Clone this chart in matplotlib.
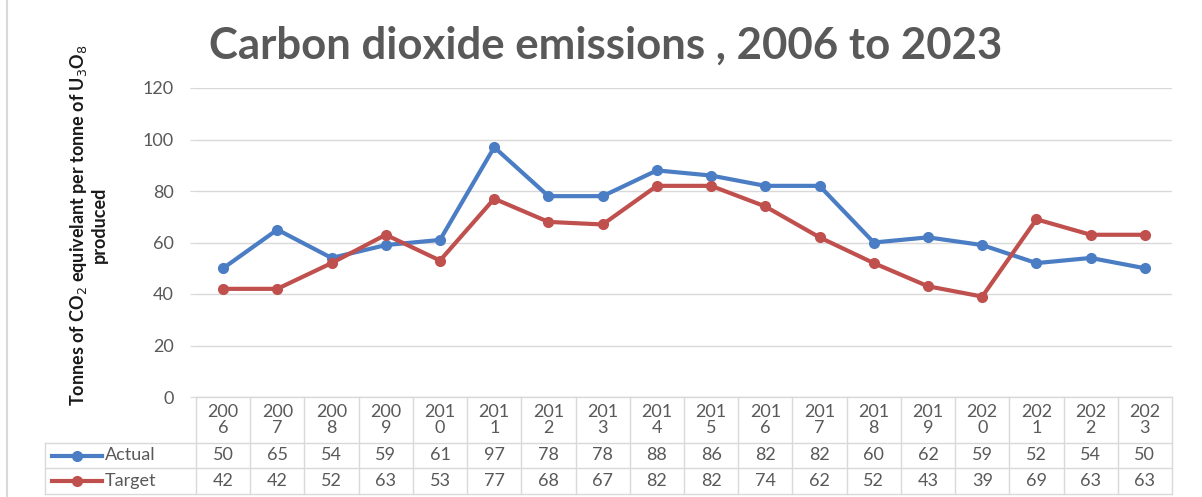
import matplotlib
matplotlib.use("Agg")
import matplotlib.pyplot as plt
from matplotlib.lines import Line2D

years = [str(y) for y in range(2006, 2024)]
actual = [50, 65, 54, 59, 61, 97, 78, 78, 88, 86, 82, 82, 60, 62, 59, 52, 54, 50]
target = [42, 42, 52, 63, 53, 77, 68, 67, 82, 82, 74, 62, 52, 43, 39, 69, 63, 63]
series_names = ["Actual", "Target"]
colors = ["#4A7DC4", "#C0504D"]
yticks = [0, 20, 40, 60, 80, 100, 120]

W, H = 1202, 497
fig = plt.figure(figsize=(W / 100, H / 100), dpi=100)
plt.rcParams['font.family'] = ['Lato', 'DejaVu Sans']

def fx(px): return px / W
def fy(py): return 1 - py / H

L, R, T, B = 196, 1172, 88, 397
ax = fig.add_axes([fx(L), fy(B), fx(R) - fx(L), fy(T) - fy(B)])
x = list(range(len(years)))
for vals, c in zip([actual, target], colors):
    ax.plot(x, vals, color=c, lw=3, marker='o', ms=7, zorder=3)
ax.set_xlim(-0.5, len(years) - 0.5)
ax.set_ylim(0, 120)
ax.set_yticks(yticks)
ax.set_yticklabels([str(v) for v in yticks], color='#595959', fontsize=13)
ax.tick_params(axis='y', length=4, color='#D9D9D9', pad=12)
ax.set_xticks([])
ax.grid(axis='y', color='#D9D9D9', lw=1)
ax.set_axisbelow(True)
for s in ax.spines.values():
    s.set_visible(False)

# Title
fig.text(fx(606), fy(46), "Carbon dioxide emissions , 2006 to 2023", ha='center', va='center',
         fontsize=31.5, fontweight='bold', color='#595959')

# Y label
fig.text(fx(88), fy(225), "Tonnes of CO$_2$ equivelant per tonne of U$_3$O$_8$\nproduced",
         rotation=90, ha='center', va='center', fontsize=13, fontweight='bold',
         color='#1a1a1a', linespacing=1.1)

# Data table
grid_c = '#D9D9D9'
txt_c = '#595959'
col_w = (R - L) / len(years)
row_tops = [397, 443, 468, 494]
label_left = 45

def hline(x0, x1, y):
    fig.add_artist(Line2D([fx(x0), fx(x1)], [fy(y), fy(y)], color=grid_c, lw=1))
def vline(xp, y0, y1):
    fig.add_artist(Line2D([fx(xp), fx(xp)], [fy(y0), fy(y1)], color=grid_c, lw=1))

hline(L, R, row_tops[0])
for yy in row_tops[1:]:
    hline(label_left, R, yy)
vline(label_left, row_tops[1], row_tops[3])
for i in range(len(years) + 1):
    vline(L + i * col_w, row_tops[0], row_tops[3])

for i, yr in enumerate(years):
    cx = L + (i + 0.5) * col_w
    fig.text(fx(cx), fy((row_tops[0] + row_tops[1]) / 2), yr[:3] + "\n" + yr[3:],
             ha='center', va='center', fontsize=13, color=txt_c, linespacing=1.05)
for r, (name, vals, c) in enumerate(zip(series_names, [actual, target], colors)):
    cy = (row_tops[r + 1] + row_tops[r + 2]) / 2
    fig.add_artist(Line2D([fx(52), fx(102)], [fy(cy), fy(cy)], color=c, lw=3))
    fig.add_artist(Line2D([fx(77)], [fy(cy)], color=c, marker='o', ms=7, lw=0))
    fig.text(fx(105), fy(cy), name, ha='left', va='center', fontsize=13, color=txt_c)
    for i, v in enumerate(vals):
        cx = L + (i + 0.5) * col_w
        fig.text(fx(cx), fy(cy), str(v), ha='center', va='center', fontsize=13, color=txt_c)

# Outer frame line
fig.add_artist(Line2D([fx(7), fx(7)], [0, 1], color=grid_c, lw=1.5))

fig.savefig("out.png", dpi=100, facecolor='white')
